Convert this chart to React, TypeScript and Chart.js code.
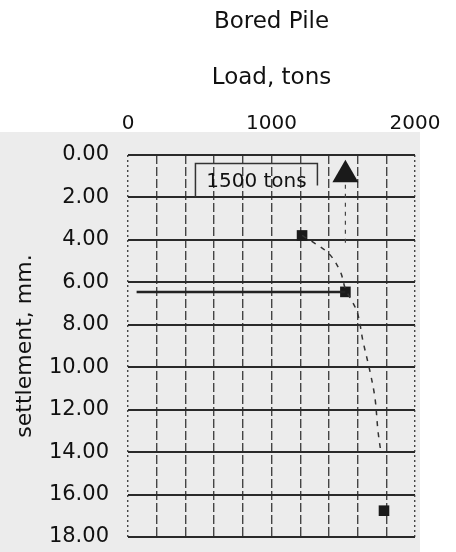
import React, { useEffect, useRef } from "react";
import { Chart, registerables } from "chart.js";

Chart.register(...registerables);

const TITLE = "Bored Pile";
const X_TITLE = "Load, tons";
const Y_TITLE = "settlement, mm.";
const X_LABELED = [0, 1000, 2000];

// measured test points (load, settlement)
const testLoads = [1213, 1515, 1784];
const testSettlements = [3.79, 6.45, 16.76];

// 1500-ton marker (triangle)
const markerLoads = [1515];
const markerSettlements = [0.93];

// dashed hand-drawn trend curve
const curveLoads = [1213, 1260, 1400, 1480, 1515, 1596, 1638, 1686, 1721, 1742, 1760];
const curveSettlements = [3.79, 3.98, 4.65, 5.5, 6.3, 7.39, 8.79, 10.19, 11.45, 13.0, 13.9];

// horizontal reference line at the 1500-ton settlement
const lineLoads = [60, 1515];
const lineSettlements = [6.45, 6.45];

// short vertical guide under the triangle
const guideLoads = [1515, 1515];
const guideSettlements = [1.4, 4.3];

// boxed label
const boxLabel = "1500 tons";
const boxLoads = [470, 1320];
const boxSettlements = [0.4, 2.0];

const FONT = "DejaVu Sans";
const INK = "#111";

const bgPlugin = {
  id: "scanBg",
  beforeDraw(chart: any) {
    const { ctx, chartArea } = chart;
    ctx.save();
    ctx.fillStyle = "#ececec";
    const top = chartArea.top - 23;
    ctx.fillRect(0, top, chartArea.right + 5, chart.height - top);
    ctx.restore();
  },
};

const boxPlugin = {
  id: "boxLabel",
  afterDatasetsDraw(chart: any) {
    const { ctx } = chart;
    const x = chart.scales.x;
    const y = chart.scales.y;
    const l = x.getPixelForValue(boxLoads[0]);
    const r = x.getPixelForValue(boxLoads[1]);
    const t = y.getPixelForValue(boxSettlements[0]);
    const b = y.getPixelForValue(boxSettlements[1]);
    ctx.save();
    ctx.strokeStyle = "#333";
    ctx.lineWidth = 1.5;
    ctx.beginPath();
    ctx.moveTo(l, b);
    ctx.lineTo(l, t);
    ctx.lineTo(r, t);
    ctx.lineTo(r, t + (b - t) * 0.65);
    ctx.stroke();
    ctx.font = `20px "${FONT}"`;
    ctx.fillStyle = INK;
    ctx.textAlign = "center";
    ctx.textBaseline = "middle";
    ctx.fillText(boxLabel, (l + r) / 2, (t + b) / 2 + 1);
    ctx.restore();
  },
};

const pts = (xs: number[], ys: number[]) => xs.map((v, i) => ({ x: v, y: ys[i] }));

export default function App() {
  const ref = useRef<HTMLCanvasElement | null>(null);
  useEffect(() => {
    if (!ref.current) return;
    const chart = new Chart(ref.current, {
      type: "scatter",
      data: {
        datasets: [
          {
            data: pts(lineLoads, lineSettlements),
            showLine: true,
            borderColor: "#222",
            borderWidth: 2.5,
            pointRadius: 0,
          },
          {
            data: pts(curveLoads, curveSettlements),
            showLine: true,
            borderColor: "#333",
            borderWidth: 1.5,
            borderDash: [5, 6],
            tension: 0.35,
            pointRadius: 0,
          },
          {
            data: pts(guideLoads, guideSettlements),
            showLine: true,
            borderColor: "#444",
            borderWidth: 1.2,
            borderDash: [4, 5],
            pointRadius: 0,
          },
          {
            data: pts(testLoads, testSettlements),
            pointStyle: "rect",
            pointRadius: 7.5,
            backgroundColor: "#1a1a1a",
            borderColor: "#1a1a1a",
            borderWidth: 0,
          },
          {
            data: pts(markerLoads, markerSettlements),
            pointStyle: "triangle",
            pointRadius: 15,
            backgroundColor: "#1a1a1a",
            borderColor: "#1a1a1a",
            borderWidth: 0,
          },
        ],
      },
      options: {
        animation: false,
        responsive: true,
        maintainAspectRatio: false,
        layout: { padding: { top: 0, left: 12, right: 41, bottom: 12 } },
        font: { family: FONT },
        plugins: {
          legend: { display: false },
          tooltip: { enabled: false },
          title: { display: false },
        },
        scales: {
          x: {
            type: "linear",
            position: "top",
            min: 0,
            max: 2000,
            afterFit: (s: any) => {
              s.paddingLeft = 0;
              s.paddingRight = 0;
            },
            ticks: {
              stepSize: 200,
              autoSkip: false,
              maxRotation: 0,
              color: INK,
              font: { family: FONT, size: 20 },
              padding: 19.5,
              callback: (v: any) => (X_LABELED.includes(Number(v)) ? String(v) : ""),
            },
            grid: { color: "#444", lineWidth: 1.4, drawTicks: false },
            border: {
              display: false,
              dash: (c: any) =>
                c.tick && (c.tick.value === 0 || c.tick.value === 2000) ? [2, 3] : [9, 3],
            } as any,
            title: {
              display: true,
              text: [TITLE, "", X_TITLE],
              color: INK,
              font: { family: FONT, size: 23, lineHeight: "28px" },
              padding: { top: 8, bottom: 0 },
            },
          },
          y: {
            type: "linear",
            reverse: true,
            min: 0,
            max: 18,
            afterFit: (s: any) => {
              s.paddingTop = 0;
              s.paddingBottom = 0;
              s.width = 116;
            },
            ticks: {
              stepSize: 2,
              color: INK,
              font: { family: FONT, size: 21 },
              padding: 19,
              callback: (v: any) => Number(v).toFixed(2),
            },
            grid: { color: "#2a2a2a", lineWidth: 2, drawTicks: false },
            border: { display: false },
            title: {
              display: true,
              text: Y_TITLE,
              color: INK,
              font: { family: FONT, size: 22 },
              padding: { top: 0, bottom: 0 },
            },
          },
        },
      } as any,
      plugins: [bgPlugin, boxPlugin],
    });
    return () => chart.destroy();
  }, []);
  return (
    <div style={{ position: "absolute", left: 0, top: 0, width: 456, height: 552, background: "#fff" }}>
      <canvas ref={ref} />
    </div>
  );
}
